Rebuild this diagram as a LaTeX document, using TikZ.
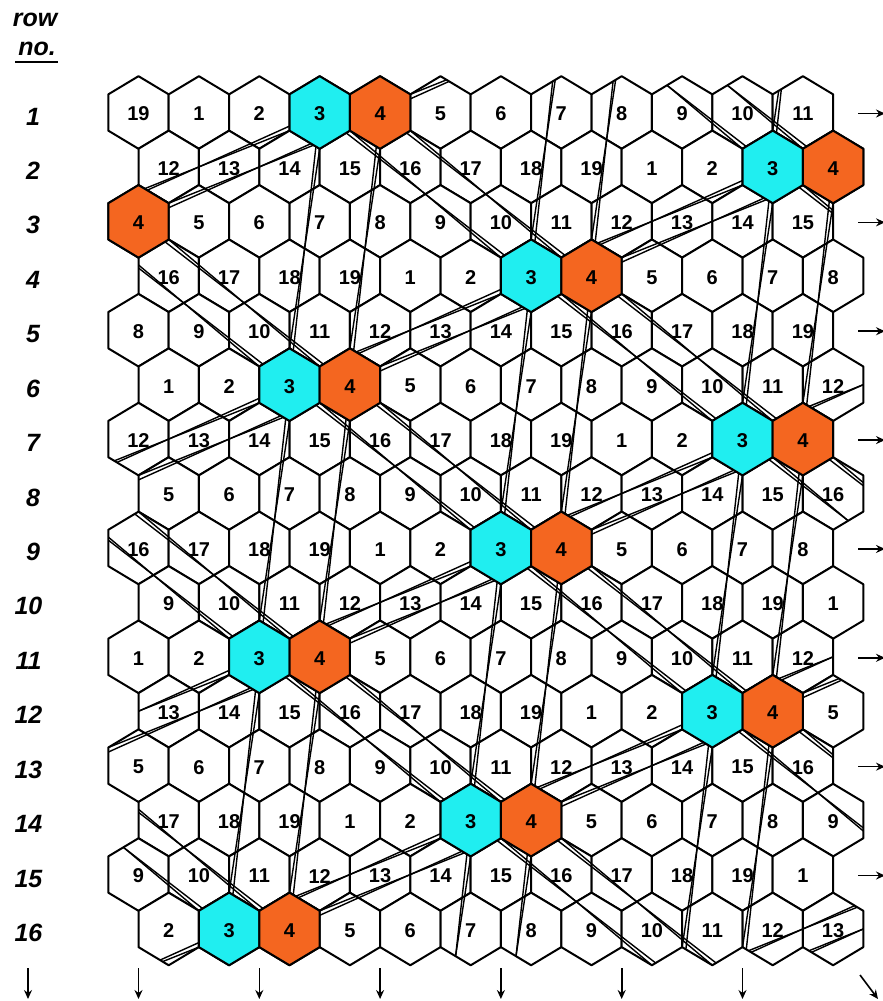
\documentclass[tikz,border=0pt]{standalone}
\usepackage{fontspec}
\setmainfont{Liberation Sans}
\usetikzlibrary{arrows.meta}
\definecolor{cellcyan}{RGB}{32,238,240}
\definecolor{cellorange}{RGB}{244,102,32}
\newcommand\hexat[2]{(#1-30.2,#2-18.15) -- (#1,#2-36.3) -- (#1+30.2,#2-18.15) -- (#1+30.2,#2+18.15) -- (#1,#2+36.3) -- (#1-30.2,#2+18.15) -- cycle}
\begin{document}
\begin{tikzpicture}[x=1pt,y=-1pt,
  hexedge/.style={draw=black,line width=2pt,line join=round},
  link/.style={line width=1.4pt,black},
  cellnum/.style={font=\bfseries\fontsize{20}{24}\selectfont,inner sep=0pt},
  rowlab/.style={font=\bfseries\itshape\fontsize{25}{30}\selectfont,inner sep=0pt},
  wrap/.style={line width=1.6pt,-{Stealth[length=9pt,width=8pt,inset=3pt]}}]
\useasboundingbox (0,0) rectangle (883,1001);
\fill[white] (0,0) rectangle (883,1001);
% white hexagon grid
\foreach \r in {0,...,15}{
  \foreach \c in {0,...,11}{
    \pgfmathsetmacro\hx{138.5+60.4*\c+30.2*mod(\r,2)}
    \pgfmathsetmacro\hy{112.5+54.43*\r}
    \path[hexedge,fill=white] \hexat{\hx}{\hy};
  }
}
% co-channel links, clipped to the grid
\begin{scope}
\clip \foreach \r [evaluate=\r as \hy using 112.5+54.43*\r] in {0,...,15}{
  \foreach \c [evaluate=\c as \hx using {138.5+60.4*\c+30.2*mod(\r,2)}] in {0,...,11}{
    \hexat{\hx}{\hy}
  }
};
\foreach \a in {-3,...,5}{
  \foreach \b in {-4,...,6}{
    \foreach \s in {6,8}{
      \pgfmathsetmacro\px{138.5+30.2*(\s+7*\a-\b)}
      \pgfmathsetmacro\py{112.5+54.43*(3*\a+5*\b)}
      \pgfmathtruncatemacro\skipB{and(\s==8,and(\a==-1,or(\b==0,\b==1)))}
      \draw[link] (\px,\py) -- ++(211.4,163.29);
      \draw[link] (\px,\py) -- ++(-241.6,108.86);
      \draw[link] (\px+30.2,\py+18.15) -- ++(151,127);
      \draw[link] (\px-30.2,\py+18.15) -- ++(-181.2,72.56);
      \ifnum\skipB=0
        \draw[link] (\px,\py) -- ++(-30.2,272.15);
        \draw[link] (\px,\py+36.3) -- ++(-30.2,199.55);
      \fi
    }
  }
}
\end{scope}
% coloured cells
\foreach \u/\r in {6/0,21/1,13/3,5/5,20/6,12/8,4/10,19/11,11/13,3/15}{
  \pgfmathsetmacro\hx{138.5+30.2*\u}
  \pgfmathsetmacro\hy{112.5+54.43*\r}
  \path[hexedge,fill=cellcyan] \hexat{\hx}{\hy};
}
\foreach \u/\r in {8/0,23/1,0/2,15/3,7/5,22/6,14/8,6/10,21/11,13/13,5/15}{
  \pgfmathsetmacro\hx{138.5+30.2*\u}
  \pgfmathsetmacro\hy{112.5+54.43*\r}
  \path[hexedge,fill=cellorange] \hexat{\hx}{\hy};
}
% cell numbers
\foreach \st [count=\r from 0] in {19,12,4,16,8,1,12,5,16,9,1,13,5,17,9,2}{
  \foreach \c in {0,...,11}{
    \pgfmathsetmacro\hx{138.5+60.4*\c+30.2*mod(\r,2)}
    \pgfmathsetmacro\hy{112.5+54.43*\r+1.5}
    \pgfmathtruncatemacro\lab{mod(\st-1+\c,19)+1}
    \node[cellnum] (h-\r-\c) at (\hx,\hy) {\lab};
  }
}
% row labels
\node[rowlab,anchor=base] (rowword) at (35,27) {row};
\node[rowlab,anchor=base] (noword) at (37,55) {no.};
\draw[line width=2pt] (15,62) -- (58,62);
\foreach \r in {0,...,15}{
  \pgfmathsetmacro\hy{112.5+54.43*\r+4}
  \pgfmathtruncatemacro\rr{\r+1}
  \pgfmathsetmacro\lx{\r<9 ? 33 : 28.5}
  \node[rowlab] (rl-\r) at (\lx,\hy) {\rr};
}
% wrap-around arrows
\foreach \r in {0,2,...,14}{
  \pgfmathsetmacro\hy{112.5+54.43*\r+1}
  \coordinate (ra-\r) at (858,\hy);
  \coordinate (rb-\r) at (885,\hy);
  \draw[wrap] (ra-\r) -- (rb-\r);
}
\foreach \x [count=\i] in {28,138.5,259.3,380.1,500.9,621.7,742.5}{
  \coordinate (da-\i) at (\x,968);
  \coordinate (db-\i) at (\x,999);
  \draw[wrap] (da-\i) -- (db-\i);
}
\coordinate (dd-a) at (860,975);
\coordinate (dd-b) at (878,999);
\draw[wrap] (dd-a) -- (dd-b);
\end{tikzpicture}
\end{document}
